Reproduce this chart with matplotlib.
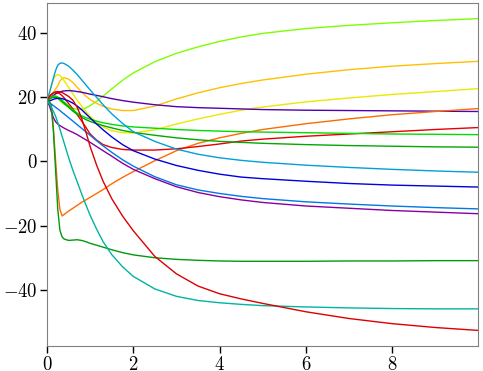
import numpy as np
import matplotlib
matplotlib.use("Agg")
import matplotlib.pyplot as plt
from matplotlib.ticker import MultipleLocator

plt.rcParams['font.family'] = 'serif'
plt.rcParams['font.serif'] = ['cmr10']
plt.rcParams['mathtext.fontset'] = 'cm'
plt.rcParams['axes.formatter.use_mathtext'] = True

# shared time grid
t = [0, 0.05, 0.1, 0.15, 0.2, 0.25, 0.3, 0.35, 0.4, 0.5, 0.6, 0.7, 0.8, 0.9, 1.0,
     1.15, 1.3, 1.5, 1.75, 2.0, 2.5, 3.0, 3.5, 4.0, 4.5, 5.0, 6.0, 7.0, 8.0, 9.0, 9.99]

lime = [19, 19.5, 20, 20.2, 20, 19.5, 18.8, 18.2, 17.7, 17, 16.5, 16.2, 16.2, 16.6, 17.3,
        18.7, 20.3, 22.5, 25.2, 27.5, 31, 33.6, 35.6, 37.3, 38.7, 39.8, 41.3, 42.3, 43.1, 43.8, 44.4]
gold = [19, 19.5, 20.5, 21.5, 22.5, 23.5, 25, 25.8, 26, 25.6, 24.5, 23, 21.6, 20.3, 19.2,
        18, 17.1, 16.3, 15.8, 15.8, 17.2, 19.4, 21.3, 22.9, 24.2, 25.3, 27.1, 28.5, 29.6, 30.4, 31.1]
yellow = [19, 21, 23.5, 25.5, 26.7, 27, 26.7, 26, 25, 23, 21, 19, 17.2, 15.5, 14,
          12.2, 10.7, 9.5, 8.9, 8.8, 9.8, 11.6, 13.2, 14.6, 15.9, 16.9, 18.5, 19.7, 20.8, 21.7, 22.6]
indigo = [19, 19.5, 20, 20.5, 21, 21.3, 21.6, 21.8, 21.9, 22, 21.9, 21.7, 21.5, 21.2, 20.9,
          20.5, 20.1, 19.5, 18.9, 18.4, 17.6, 17.0, 16.7, 16.5, 16.3, 16.1, 15.9, 15.8, 15.7, 15.6, 15.5]
orange = [19, 18.8, 17.5, 10, 0, -9, -15, -17, -16.5, -15.5, -14.6, -13.7, -12.8, -12, -11.2,
          -10, -8.8, -7, -5, -3.2, 0.2, 3.3, 5.6, 7.3, 8.7, 9.9, 11.7, 13.2, 14.5, 15.5, 16.4]
red_a = [19, 20, 20.8, 21.3, 21.5, 21.3, 21, 20.4, 19.7, 18, 16.3, 14.5, 12.6, 10.6, 8.5,
         6.6, 5.2, 4.3, 3.7, 3.5, 3.5, 3.9, 4.6, 5.4, 6.3, 6.9, 7.8, 8.5, 9.2, 9.9, 10.5]
green_b = [19, 19.5, 20, 20.3, 20.3, 20, 19.6, 19, 18.4, 17.2, 16, 15, 14.2, 13.6, 13.1,
           12.5, 12, 11.5, 11, 10.7, 10.3, 9.9, 9.6, 9.4, 9.2, 9.1, 8.9, 8.7, 8.5, 8.4, 8.3]
green = [19, 19.3, 19.7, 19.9, 19.9, 19.6, 19.2, 18.6, 18, 16.8, 15.6, 14.6, 13.7, 13, 12.4,
         11.7, 11.1, 10.4, 9.6, 9, 8.1, 7.3, 6.7, 6.2, 5.9, 5.6, 5.2, 4.9, 4.7, 4.5, 4.4]
cyan = [19, 21, 23.5, 26, 28.3, 29.9, 30.5, 30.6, 30.4, 29.6, 28.4, 27, 25.4, 23.8, 22.2,
        19.9, 17.6, 14.8, 11.8, 9.2, 6.2, 3.8, 2.2, 1.1, 0.3, -0.3, -1.2, -1.9, -2.5, -3.0, -3.4]
blue = [18.5, 18.8, 19, 19.3, 19.5, 19.6, 19.6, 19.5, 19.3, 18.8, 18.1, 17.2, 16.1, 14.8, 13.5,
        11.6, 9.8, 7.6, 5.2, 3.3, 0.7, -1.3, -2.8, -4.0, -4.9, -5.4, -6.2, -6.9, -7.4, -7.7, -8.0]
azure = [18.5, 18.2, 17.8, 17.3, 16.8, 16.3, 15.8, 15.2, 14.7, 13.6, 12.5, 11.4, 10.3, 9.2, 8.1,
         6.4, 4.8, 2.8, 0.5, -1.5, -4.8, -7.3, -8.9, -10.0, -10.9, -11.6, -12.6, -13.3, -13.9, -14.4, -14.8]
purple = [18.5, 17.5, 15.5, 13.5, 12.3, 11.6, 11.1, 10.7, 10.3, 9.6, 9, 8.3, 7.5, 6.7, 5.9,
          4.6, 3.3, 1.6, -0.6, -2.5, -5.4, -7.9, -9.7, -11.0, -12.0, -12.8, -13.9, -14.6, -15.3, -15.8, -16.3]
dkgreen = [19, 18.8, 17, 9, -3, -15, -21.5, -23.5, -24.2, -24.6, -24.5, -24.4, -24.6, -25, -25.5,
           -26.1, -26.7, -27.5, -28.4, -29.1, -30, -30.5, -30.8, -31, -31.1, -31.1, -31.1, -31, -31, -30.9, -30.9]
teal = [19, 18, 16.8, 15.5, 14, 12, 10, 7.8, 5.6, 1.2, -2.8, -6.4, -10, -13.5, -16.8,
        -21.1, -25.0, -29.0, -32.8, -35.8, -39.7, -42, -43.3, -44, -44.5, -44.9, -45.3, -45.6, -45.8, -45.9, -45.9]
red_b = [19, 20, 20.8, 21.3, 21.6, 21.7, 21.6, 21.4, 21, 20.2, 19, 16.8, 13.5, 9.2, 4.6,
         -1.2, -6.2, -11.6, -17.0, -21.6, -29.6, -35.0, -38.8, -41.2, -42.8, -44.2, -46.8, -48.9, -50.5, -51.7, -52.6]

series = [lime, gold, yellow, indigo, orange, red_a, green_b, green,
          cyan, blue, azure, purple, dkgreen, teal, red_b]
colors = ['#7cff00', '#ffc000', '#eaea00', '#5200b0', '#ff6a00', '#e80000', '#00dd00', '#00aa00',
          '#00a0d8', '#0000dd', '#0078e8', '#8800a0', '#009a10', '#00b4a0', '#dd0000']

fig = plt.figure(figsize=(4.83, 3.71), dpi=100)
ax = fig.add_axes([0.0973, 0.0674, 0.8924, 0.9245])

for ys, c in zip(series, colors):
    ax.plot(t, ys, color=c, lw=1.0)

ax.set_xlim(t[0], t[-1])
ax.margins(x=0)
ax.xaxis.set_major_locator(MultipleLocator(2))
ax.yaxis.set_major_locator(MultipleLocator(20))
ax.tick_params(labelsize=13.5, direction='out', length=5, width=1, pad=2)
for s in ax.spines.values():
    s.set_color('#808080')

fig.savefig('out.png', dpi=100)
